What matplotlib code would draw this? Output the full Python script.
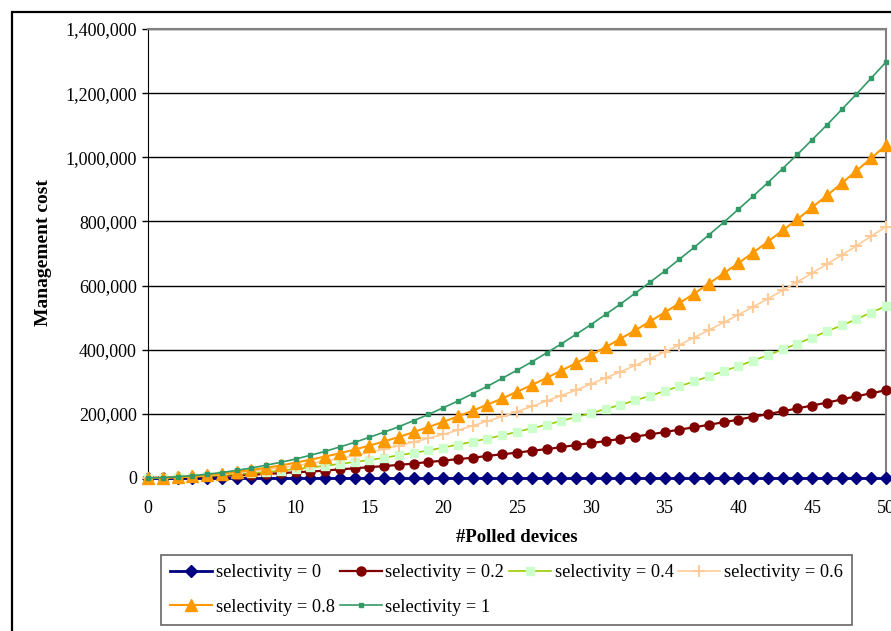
import matplotlib
matplotlib.use("Agg")
import numpy as np
from matplotlib import pyplot as plt
from matplotlib.patches import Rectangle
from matplotlib.ticker import FuncFormatter

plt.rcParams["font.family"] = ["Liberation Serif", "DejaVu Serif"]

# number of polled devices, 0..50
devices = list(range(51))

# management cost per selectivity level, in thousands
cost_s00 = [0] * 51
cost_s02 = [0, 1, 2, 3, 5, 7, 8, 10, 13, 15, 18, 20, 23, 27, 30, 34, 37, 41, 45, 50,
            54, 59, 63, 69, 74, 79, 85, 90, 96, 103, 109, 115, 122, 129, 136, 143, 151,
            158, 166, 174, 182, 191, 199, 208, 217, 226, 235, 245, 255, 264, 274]
cost_s04 = [0, 1, 2, 4, 6, 9, 12, 15, 19, 23, 28, 33, 38, 44, 50, 56, 63, 71, 78, 86,
            95, 104, 113, 123, 133, 144, 155, 166, 178, 190, 202, 215, 228, 242, 256,
            271, 286, 301, 317, 333, 349, 366, 383, 401, 419, 438, 457, 476, 495, 516, 536]
cost_s06 = [0, 1, 3, 5, 8, 12, 16, 21, 26, 32, 38, 45, 53, 61, 70, 80, 90, 101, 112,
            124, 136, 149, 163, 177, 192, 207, 223, 240, 257, 274, 293, 312, 331, 351,
            372, 393, 415, 438, 461, 485, 509, 534, 559, 585, 612, 639, 667, 695, 724,
            754, 784]
cost_s08 = [0, 1, 3, 6, 9, 14, 19, 25, 32, 39, 48, 57, 67, 77, 89, 101, 114, 128, 143,
            159, 175, 192, 210, 229, 248, 269, 290, 312, 335, 358, 383, 408, 434, 460,
            488, 516, 545, 575, 606, 638, 670, 703, 737, 772, 807, 844, 881, 919, 958,
            997, 1038]
cost_s10 = [0, 1, 4, 7, 12, 17, 24, 31, 40, 49, 59, 71, 83, 97, 111, 127, 143, 160, 179,
            198, 219, 240, 263, 286, 311, 336, 362, 390, 418, 448, 478, 510, 542, 576,
            610, 645, 682, 719, 758, 797, 838, 879, 921, 965, 1009, 1055, 1101, 1149,
            1197, 1247, 1297]

labels = ["selectivity = 0", "selectivity = 0.2", "selectivity = 0.4",
          "selectivity = 0.6", "selectivity = 0.8", "selectivity = 1"]
series = [cost_s00, cost_s02, cost_s04, cost_s06, cost_s08, cost_s10]

styles = [
    dict(color="#000080", lw=2.0, marker="D", ms=6, mfc="#000080", mec="#000080"),
    dict(color="#800000", lw=1.6, marker="o", ms=6.5, mfc="#800000", mec="#800000"),
    dict(color="#99CC00", lw=1.2, marker="s", ms=6, mfc="#CCFFCC", mec="#CCFFCC"),
    dict(color="#FFCC99", lw=1.2, marker="+", ms=8, mew=1.5, mec="#FFCC99"),
    dict(color="#FF9900", lw=1.5, marker="^", ms=9, mfc="#FF9900", mec="#FF9900"),
    dict(color="#339966", lw=1.2, marker="s", ms=3.5, mfc="#339966", mec="#339966"),
]

fig = plt.figure(figsize=(8.91, 6.31), dpi=100)
ax = fig.add_axes([148 / 891, 1 - 478 / 631, 738 / 891, 449 / 631])

x = np.array(devices)
handles = []
for vals, lab, st in zip(series, labels, styles):
    h, = ax.plot(x, np.array(vals) * 1000, label=lab, clip_on=False, zorder=3, **st)
    handles.append(h)

ax.set_xlim(0, 50)
ax.set_ylim(0, 1400000)
ax.set_xticks(range(0, 51, 5))
ax.set_yticks(range(0, 1400001, 200000))
ax.yaxis.set_major_formatter(FuncFormatter(lambda v, p: f"{int(v):,}"))
ax.grid(axis="y", color="#000000", lw=1.0)
ax.set_axisbelow(True)

for side in ["top", "right"]:
    ax.spines[side].set_color("#808080")
    ax.spines[side].set_linewidth(1.5)
ax.spines["left"].set_color("#000000")
ax.spines["bottom"].set_color("#000000")
ax.tick_params(axis="y", direction="out", length=4, width=1, pad=4, labelsize=13)
ax.tick_params(axis="x", length=0, pad=16, labelsize=13)

fig.text(44 / 891, 1 - 253 / 631, "Management cost", rotation=90,
         ha="center", va="center", fontsize=14, fontweight="bold")
fig.text(517 / 891, 1 - 537 / 631, "#Polled devices",
         ha="center", va="center", fontsize=13.5, fontweight="bold")

# legend fills column by column; reorder so it reads row by row
order = [0, 4, 1, 5, 2, 3]
leg = fig.legend([handles[i] for i in order], [labels[i] for i in order],
                 loc="upper left", bbox_to_anchor=(161 / 891, 1 - 555 / 631),
                 ncol=4, fontsize=13.2, frameon=True, fancybox=False,
                 handlelength=2.3, handletextpad=0.2, columnspacing=0.25,
                 labelspacing=0.95, borderpad=0.5, borderaxespad=0)
leg.get_frame().set_edgecolor("#404040")
leg.get_frame().set_linewidth(1.2)

# page frame around the chart
fig.patches.append(Rectangle((12 / 891, -0.2), 1.2, 1.2 - 12 / 631,
                             transform=fig.transFigure, fill=False,
                             edgecolor="#000000", lw=1.6))

fig.savefig("out.png", dpi=100)
